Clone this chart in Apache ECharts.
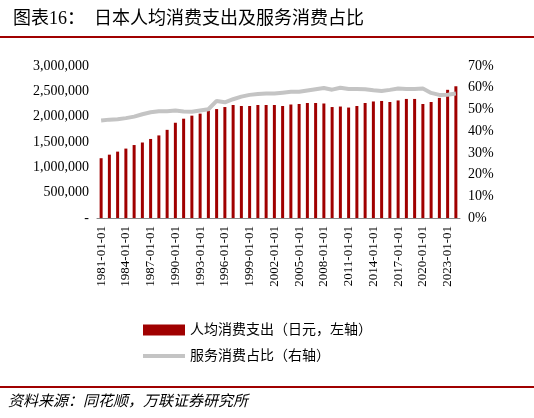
<!DOCTYPE html><html><head><meta charset="utf-8"><script src="https://cdn.jsdelivr.net/npm/echarts@6/dist/echarts.min.js"></script></head><body style="margin:0"><div id="c" style="width:534px;height:418px"></div><script>
const years=[];for(let y=1981;y<=2024;y++)years.push(y+'-01-01');
const spending=[1180000,1250000,1310000,1370000,1440000,1490000,1560000,1630000,1740000,1880000,1960000,2020000,2060000,2120000,2150000,2190000,2230000,2210000,2210000,2230000,2230000,2230000,2210000,2240000,2250000,2270000,2270000,2260000,2190000,2200000,2180000,2210000,2270000,2300000,2310000,2290000,2320000,2350000,2350000,2250000,2290000,2370000,2530000,2600000];
const serviceShare=[44.9,45.3,45.5,46.0,46.7,47.8,48.7,49.2,49.2,49.5,49.0,48.9,49.5,50.1,53.9,53.3,54.7,55.9,56.7,57.1,57.3,57.3,57.7,58.1,58.1,58.7,59.3,59.9,59.1,60.0,59.4,59.4,59.3,58.8,58.5,59.0,59.6,59.4,59.4,59.6,57.6,56.7,56.8,57.3];
const leftTicks=['-','500,000','1,000,000','1,500,000','2,000,000','2,500,000','3,000,000'];
const ch=echarts.init(document.getElementById('c'));
const f="'Liberation Serif','Noto Sans CJK SC',serif";
ch.setOption({
 animation:false,
 title:{text:'图表16：  日本人均消费支出及服务消费占比',left:8,top:5,textStyle:{fontSize:18,fontWeight:'normal',color:'#000',fontFamily:f}},
 graphic:[{type:'line',shape:{x1:0,y1:37,x2:534,y2:37},style:{stroke:'#a00000',lineWidth:2}},
 {type:'line',shape:{x1:0,y1:387,x2:534,y2:387},style:{stroke:'#a00000',lineWidth:2}},
 {type:'text',left:8,top:395,style:{text:'资料来源：同花顺，万联证券研究所',fontSize:15,fontStyle:'italic',fill:'#000',fontFamily:f}}],
 legend:{orient:'vertical',left:138,top:318,itemGap:12,itemWidth:42,itemHeight:11,textStyle:{fontSize:14,color:'#000',fontFamily:f},
  data:[{name:'人均消费支出（日元，左轴）',icon:'rect'},{name:'服务消费占比（右轴）',icon:'path://M0,0L42,0L42,4L0,4Z'}]},
 grid:{left:97,right:74,top:66,bottom:200},
 xAxis:{type:'category',data:years,axisTick:{show:false},axisLine:{lineStyle:{color:'#888'}},
  axisLabel:{rotate:90,interval:2,fontSize:13,color:'#000',fontFamily:f}},
 yAxis:[{type:'value',min:0,max:3000000,interval:500000,splitLine:{show:false},axisLabel:{fontSize:14,color:'#000',fontFamily:f,formatter:(v)=>leftTicks[v/500000]}},
  {type:'value',min:0,max:70,interval:10,splitLine:{show:false},axisLabel:{fontSize:14,color:'#000',fontFamily:f,formatter:'{value}%'}}],
 series:[{name:'人均消费支出（日元，左轴）',type:'bar',data:spending,barWidth:3,itemStyle:{color:'#a00000'}},
  {name:'服务消费占比（右轴）',type:'line',yAxisIndex:1,data:serviceShare,symbol:'none',lineStyle:{color:'#c4c4c4',width:4},itemStyle:{color:'#c4c4c4'}}]
});
</script></body></html>
